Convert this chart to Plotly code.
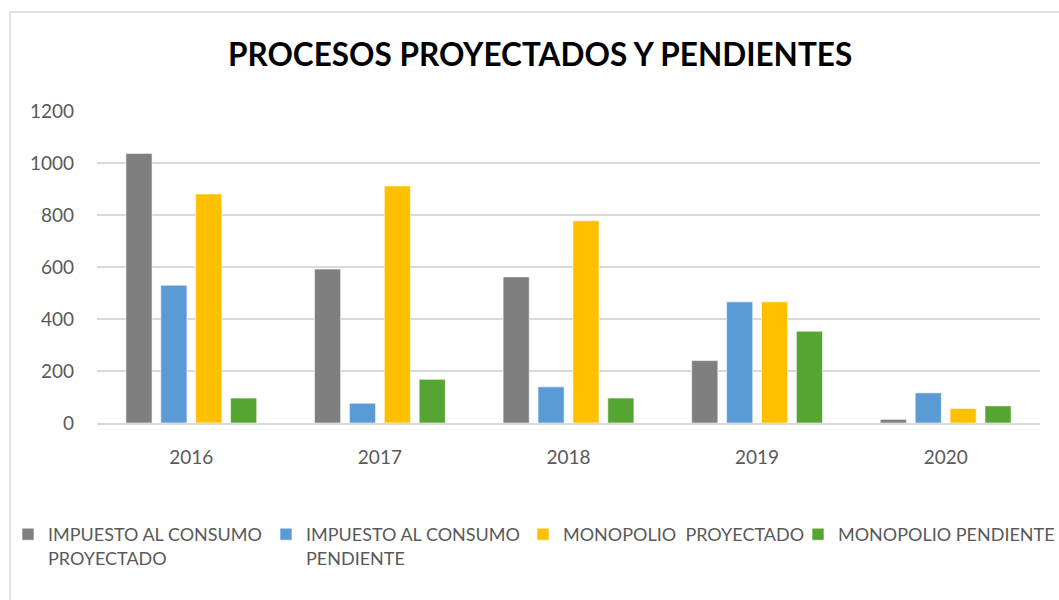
import plotly.graph_objects as go

years = ["2016", "2017", "2018", "2019", "2020"]
series_names = [
    "IMPUESTO AL CONSUMO<br>PROYECTADO",
    "IMPUESTO AL CONSUMO<br>PENDIENTE",
    "MONOPOLIO  PROYECTADO",
    "MONOPOLIO PENDIENTE",
]
impuesto_proyectado = [1037, 592, 562, 240, 14]
impuesto_pendiente = [530, 76, 139, 466, 116]
monopolio_proyectado = [881, 912, 778, 466, 56]
monopolio_pendiente = [96, 168, 96, 353, 66]
colors = ["#7f7f7f", "#5b9bd5", "#ffc000", "#56a532"]
y_ticks = [0, 200, 400, 600, 800, 1000, 1200]

L, R, T, B = 97, 19, 111, 177
W, H = 1059, 600
pw = W - L - R
ph = H - T - B
legend_x_px = [8, 266, 523, 798]

fig = go.Figure()
legend_ids = ["legend", "legend2", "legend3", "legend4"]
for name, vals, col, lid in zip(series_names,
                                [impuesto_proyectado, impuesto_pendiente, monopolio_proyectado, monopolio_pendiente],
                                colors, legend_ids):
    fig.add_trace(go.Bar(x=years, y=vals, name=name, legend=lid, showlegend=True,
                         marker=dict(color=col, line=dict(color="rgba(255,255,255,0.6)", width=1))))

legend_common = dict(orientation="h", xref="container", yref="container", y=1 - 516 / H,
                     xanchor="left", yanchor="top", font=dict(size=18, color="#595959"),
                     itemwidth=30, valign="top", bgcolor="rgba(0,0,0,0)")

fig.update_layout(
    width=W, height=H,
    showlegend=True,
    margin=dict(l=L, r=R, t=T, b=B),
    paper_bgcolor="white", plot_bgcolor="white",
    barmode="group", bargap=0.26, bargroupgap=0.25,
    font=dict(family="Lato, sans-serif", color="#595959"),
    title=dict(text="<b>PROCESOS PROYECTADOS Y PENDIENTES</b>", x=0.51, xanchor="center",
               y=1 - 55 / H, yanchor="middle",
               font=dict(size=31.5, color="black", family="Lato, sans-serif")),
    xaxis=dict(showgrid=False, showline=True, linecolor="#d9d9d9", linewidth=2,
               tickfont=dict(size=19, color="#595959"), ticks="", ticklabelstandoff=16),
    yaxis=dict(range=[0, 1200], tickvals=y_ticks, showgrid=True, gridcolor="#d9d9d9", gridwidth=2,
               zeroline=False, showline=False, ticks="",
               tickfont=dict(size=19, color="#595959"), ticklabelstandoff=22),
    legend=dict(x=legend_x_px[0] / W, **legend_common),
    legend2=dict(x=legend_x_px[1] / W, **legend_common),
    legend3=dict(x=legend_x_px[2] / W, **legend_common),
    legend4=dict(x=legend_x_px[3] / W, **legend_common),
    shapes=[
        dict(type="line", xref="paper", yref="paper", x0=(10 - L) / pw, x1=(10 - L) / pw,
             y0=(H - B - 620) / ph, y1=(H - B - 12) / ph, line=dict(color="#d9d9d9", width=1.5)),
        dict(type="line", xref="paper", yref="paper", x0=(10 - L) / pw, x1=(1070 - L) / pw,
             y0=(H - B - 12) / ph, y1=(H - B - 12) / ph, line=dict(color="#d9d9d9", width=1.5)),
    ],
)

fig.write_html("out.html", config={"displayModeBar": False},
               post_script="document.body.style.margin='0px';")
